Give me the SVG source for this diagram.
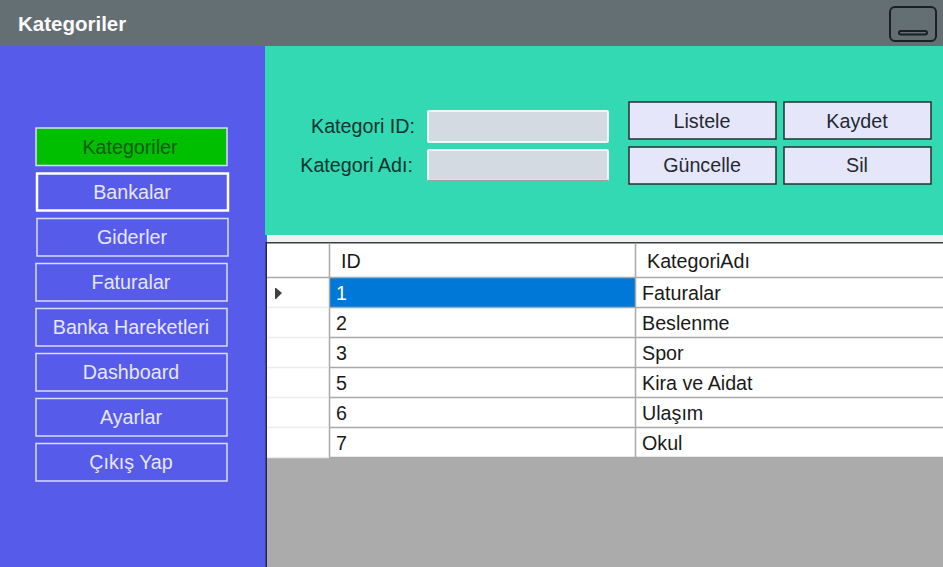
<svg xmlns="http://www.w3.org/2000/svg" width="943" height="567" viewBox="0 0 943 567">
<style>
text{font-family:"Liberation Sans",Arial,sans-serif;font-size:19.700px;text-anchor:middle}
.nav rect{fill:#575bea;stroke:#d9dcfb;stroke-width:1.500}
.nav text{fill:#e6e7fd}
.btn rect{fill:#e6e6fa;stroke:#26302e;stroke-width:1.500}
.btn text{fill:#1f2a33}
.input{fill:#d3dae2;stroke:#f3f6f6;stroke-width:2}
.lbl{fill:#12332f;text-anchor:end}
.cell{fill:#1a1a1a;text-anchor:start}
.grid{stroke:#a9a9a9;stroke-width:1.500;fill:none}
.hdrl{stroke:#ececec;stroke-width:1.500}
</style>
<rect id="titlebar" x="0" y="0" width="943" height="46" fill="#646f73"/>
<rect id="sidebar" x="0" y="46" width="265" height="521" fill="#575bea"/>
<rect id="toppanel" x="265" y="46" width="678" height="189" fill="#33d9b2"/>
<rect id="gridgap" x="265" y="235" width="678" height="7" fill="#f0f0f0"/>
<rect id="gridback" x="267" y="242" width="676" height="325" fill="#ababab"/>
<rect x="265" y="235" width="2" height="332" fill="#575bea"/>
<rect x="265.500" y="242" width="1.500" height="325" fill="#1f2a44"/>
<g id="title"><text x="18" y="31" style="text-anchor:start;font-weight:bold;font-size:20.500px" fill="#fbfbfb">Kategoriler</text></g>
<g id="minimize" fill="none" stroke="#1b2022" stroke-width="2"><rect x="890" y="7" width="46" height="34" rx="5"/><rect x="899" y="31" width="28" height="3.500" rx="1.700"/></g>
<g id="nav-kategoriler" class="nav"><rect x="36" y="128" width="191" height="37.500" style="fill:#00bf00"/><text x="130" y="153.500" style="fill:#075c07">Kategoriler</text></g>
<g id="nav-bankalar" class="nav"><rect x="37" y="173.500" width="191" height="37" style="stroke:#fff;stroke-width:2.500"/><text x="132" y="198.500">Bankalar</text></g>
<g id="nav-giderler" class="nav"><rect x="37" y="218.500" width="191" height="37.500"/><text x="132" y="243.500">Giderler</text></g>
<g id="nav-faturalar" class="nav"><rect x="36" y="263.500" width="191" height="37.500"/><text x="131" y="288.500">Faturalar</text></g>
<g id="nav-hareketler" class="nav"><rect x="36" y="308.500" width="191" height="37.500"/><text x="131" y="333.500">Banka Hareketleri</text></g>
<g id="nav-dashboard" class="nav"><rect x="36" y="353.500" width="191" height="37.500"/><text x="131" y="378.500">Dashboard</text></g>
<g id="nav-ayarlar" class="nav"><rect x="36" y="398.500" width="191" height="37.500"/><text x="131" y="423.500">Ayarlar</text></g>
<g id="nav-cikis" class="nav"><rect x="36" y="443.500" width="191" height="37.500"/><text x="131" y="468.500">Çıkış Yap</text></g>
<g id="field-id"><text class="lbl" x="415" y="133">Kategori ID:</text><rect class="input" x="428" y="111" width="180" height="31" rx="1"/></g>
<g id="field-adi"><text class="lbl" x="413" y="172">Kategori Adı:</text><rect class="input" x="428" y="150" width="180" height="30" rx="1"/><path d="M428 180.500H608" stroke="#a0a0a0" stroke-width="1.500"/></g>
<g id="btn-listele" class="btn"><rect x="629" y="102" width="147" height="37"/><text x="702" y="127.500">Listele</text></g>
<g id="btn-kaydet" class="btn"><rect x="784" y="102" width="147" height="37"/><text x="857" y="127.500">Kaydet</text></g>
<g id="btn-guncelle" class="btn"><rect x="629" y="147" width="147" height="37"/><text x="702" y="172">Güncelle</text></g>
<g id="btn-sil" class="btn"><rect x="784" y="147" width="147" height="37"/><text x="857" y="172">Sil</text></g>
<g id="table">
<rect x="267" y="243" width="676" height="215" fill="#fff"/>
<rect x="267" y="242" width="676" height="1.500" fill="#3a3f44"/>
<rect x="330" y="278" width="306" height="29" fill="#0078d7"/>
<path class="grid" d="M329.500 243V458M635.500 243V458M267 277.500H943M330 307.500H943M330 337.500H943M330 367.500H943M330 397.500H943M330 427.500H943M330 457.500H943"/>
<path class="hdrl" d="M267 307.500H329M267 337.500H329M267 367.500H329M267 397.500H329M267 427.500H329M267 457.500H329"/>
<path d="M275 288H276L282 293L276 299H275Z" fill="#404040"/>
<text class="cell" x="341" y="268">ID</text><text class="cell" x="647" y="268">KategoriAdı</text>
<text class="cell" x="336" y="300" style="fill:#fff">1</text><text class="cell" x="642" y="300">Faturalar</text>
<text class="cell" x="336" y="330">2</text><text class="cell" x="642" y="330">Beslenme</text>
<text class="cell" x="336" y="360">3</text><text class="cell" x="642" y="360">Spor</text>
<text class="cell" x="336" y="390">5</text><text class="cell" x="642" y="390">Kira ve Aidat</text>
<text class="cell" x="336" y="420">6</text><text class="cell" x="642" y="420">Ulaşım</text>
<text class="cell" x="336" y="450">7</text><text class="cell" x="642" y="450">Okul</text>
</g>
</svg>
